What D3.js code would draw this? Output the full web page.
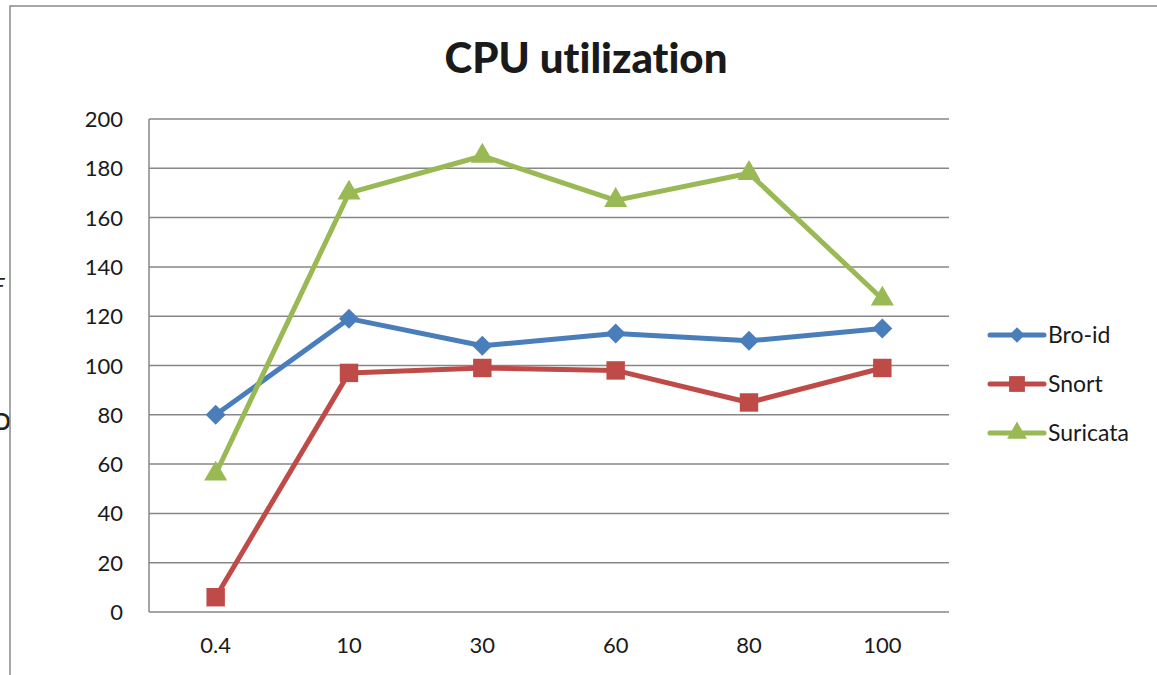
<!DOCTYPE html>
<html>
<head>
<meta charset="utf-8">
<script src="https://cdn.jsdelivr.net/npm/d3@7"></script>
<style>
  body { margin: 0; background: #fff; }
  svg { display: block; }
  text { font-variant-ligatures: none; }
</style>
</head>
<body>
<div id="chart"></div>
<script>
// data
const categories = ["0.4", "10", "30", "60", "80", "100"];
const broId    = [80, 119, 108, 113, 110, 115];
const snort    = [6, 97, 99, 98, 85, 99];
const suricata = [56, 170, 185, 167, 178, 127];
const seriesNames = ["Bro-id", "Snort", "Suricata"];
const yTicks = [0, 20, 40, 60, 80, 100, 120, 140, 160, 180, 200];

(function(){
  const width = 1157, height = 675;
  const font = "Lato, 'Open Sans', sans-serif";

  const svg = d3.select("#chart").append("svg")
    .attr("width", width).attr("height", height);

  // bits of the page behind the chart, cut by its frame
  svg.append("text").attr("x", -7).attr("y", 293)
    .attr("font-family", font).attr("font-style", "italic")
    .attr("font-size", 22).attr("fill", "#222").text("F");
  svg.append("text").attr("x", -6).attr("y", 430)
    .attr("font-family", font).attr("font-weight", "bold")
    .attr("font-size", 22).attr("fill", "#222").text("D");

  // chart frame
  svg.append("rect").attr("x", 10).attr("y", 6)
    .attr("width", 1200).attr("height", 700)
    .attr("fill", "#fff").attr("stroke", "#8a8a8a").attr("stroke-width", 1.5);

  // plot area
  const left = 149, right = 949, top = 119, bottom = 612;

  const x = d3.scaleBand().domain(categories).range([left, right]);
  const y = d3.scaleLinear().domain([0, 200]).range([bottom, top]);

  // gridlines
  svg.append("g").selectAll("line").data(yTicks).enter().append("line")
    .attr("x1", left).attr("x2", right)
    .attr("y1", d => y(d)).attr("y2", d => y(d))
    .attr("stroke", "#878787").attr("stroke-width", 1.5);

  // y axis line
  svg.append("line").attr("x1", left).attr("x2", left)
    .attr("y1", top).attr("y2", bottom)
    .attr("stroke", "#878787").attr("stroke-width", 1.5);

  // y labels
  svg.append("g").selectAll("text").data(yTicks).enter().append("text")
    .attr("x", 123).attr("y", d => y(d) + 8)
    .attr("text-anchor", "end")
    .attr("font-family", font).attr("font-size", 22).attr("fill", "#1a1a1a")
    .text(d => d);

  // x labels
  svg.append("g").selectAll("text").data(categories).enter().append("text")
    .attr("x", d => x(d) + x.bandwidth() / 2).attr("y", 653)
    .attr("text-anchor", "middle")
    .attr("font-family", font).attr("font-size", 22).attr("fill", "#1a1a1a")
    .text(d => d);

  // title
  svg.append("text").attr("x", 586).attr("y", 73)
    .attr("text-anchor", "middle")
    .attr("font-family", font).attr("font-weight", "900")
    .attr("font-size", 42).attr("fill", "#1a1a1a")
    .text("CPU utilization");

  // diamond = square turned 45 degrees
  const series = [
    { name: seriesNames[0], values: broId, color: "#4a7ebb", shape: d3.symbolSquare, rot: 45, size: 200, legSize: 120 },
    { name: seriesNames[1], values: snort, color: "#be4b48", shape: d3.symbolSquare, rot: 0, size: 340, legSize: 250 },
    { name: seriesNames[2], values: suricata, color: "#98b954", shape: d3.symbolTriangle, rot: 0, size: 230, legSize: 170 }
  ];

  const line = d3.line()
    .x((d, i) => x(categories[i]) + x.bandwidth() / 2)
    .y(d => y(d));

  series.forEach(function(s){
    svg.append("path").datum(s.values)
      .attr("d", line)
      .attr("fill", "none")
      .attr("stroke", s.color).attr("stroke-width", 5)
      .attr("stroke-linejoin", "round");

    svg.append("g").selectAll("path").data(s.values).enter().append("path")
      .attr("d", d3.symbol().type(s.shape).size(s.size))
      .attr("transform", (d, i) => "translate(" + (x(categories[i]) + x.bandwidth() / 2) + "," + y(d) + ") rotate(" + s.rot + ")")
      .attr("fill", s.color);
  });

  // legend
  const legend = svg.append("g");
  series.forEach(function(s, i){
    const ly = 335 + i * 49;
    legend.append("line").attr("x1", 990).attr("x2", 1044)
      .attr("y1", ly).attr("y2", ly)
      .attr("stroke", s.color).attr("stroke-width", 5).attr("stroke-linecap", "round");
    legend.append("path")
      .attr("d", d3.symbol().type(s.shape).size(s.legSize))
      .attr("transform", "translate(1017," + ly + ") rotate(" + s.rot + ")")
      .attr("fill", s.color);
    legend.append("text").attr("x", 1048).attr("y", ly + 8)
      .attr("font-family", font).attr("font-size", 23).attr("fill", "#1a1a1a")
      .text(s.name);
  });
})();
</script>
</body>
</html>
